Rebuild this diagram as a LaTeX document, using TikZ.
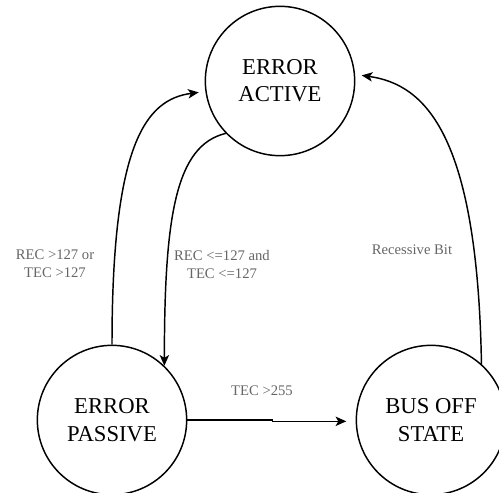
\documentclass[tikz,border=0pt]{standalone}
\usepackage{fontspec}
\setmainfont{Liberation Serif}
\usetikzlibrary{arrows.meta,positioning}
\definecolor{lblgray}{gray}{0.4}
\tikzset{
  state/.style={draw,circle,line width=1.1pt,minimum size=112pt,inner sep=0pt,
                align=center,font=\fontsize{17}{20.5}\selectfont},
  lbl/.style={font=\fontsize{11}{13.5}\selectfont,text=lblgray,align=center},
  fl/.style={-{Stealth[length=8pt,width=7pt,inset=2pt]},line width=1.1pt},
}
\begin{document}
\begin{tikzpicture}[x=0.75pt,y=-0.75pt]
\useasboundingbox (0,0) rectangle (499,492);
\node[state] (active) at (280,81) {ERROR\\ACTIVE};
\node[state] (passive) at (112,420) {ERROR\\PASSIVE};
\node[state] (busoff) at (431,420) {BUS OFF\\STATE};
% transitions
\draw[fl, shorten >=5pt] (passive.north) .. controls +(0,-200) and +(-60,8) .. (active.188);
\draw[fl] (active.224) .. controls +(-50,12) and +(0,-150) .. (passive.46);
\draw[fl, shorten >=5pt] (busoff.48) .. controls +(-4,-230) and +(70,10) .. (active.5);
\draw[fl, shorten >=7pt] (passive.east) -- ++(85,0) |- (busoff.181);
% conditions
\node[lbl] (toPassive) at (55,264) {REC >127 or\\TEC >127};
\node[lbl] (toActive) at (222,264) {REC <=127 and\\TEC <=127};
\node[lbl] (recessive) at (412,250) {Recessive Bit};
\node[lbl] (busErr) at (262,391) {TEC >255};
\end{tikzpicture}
\end{document}
